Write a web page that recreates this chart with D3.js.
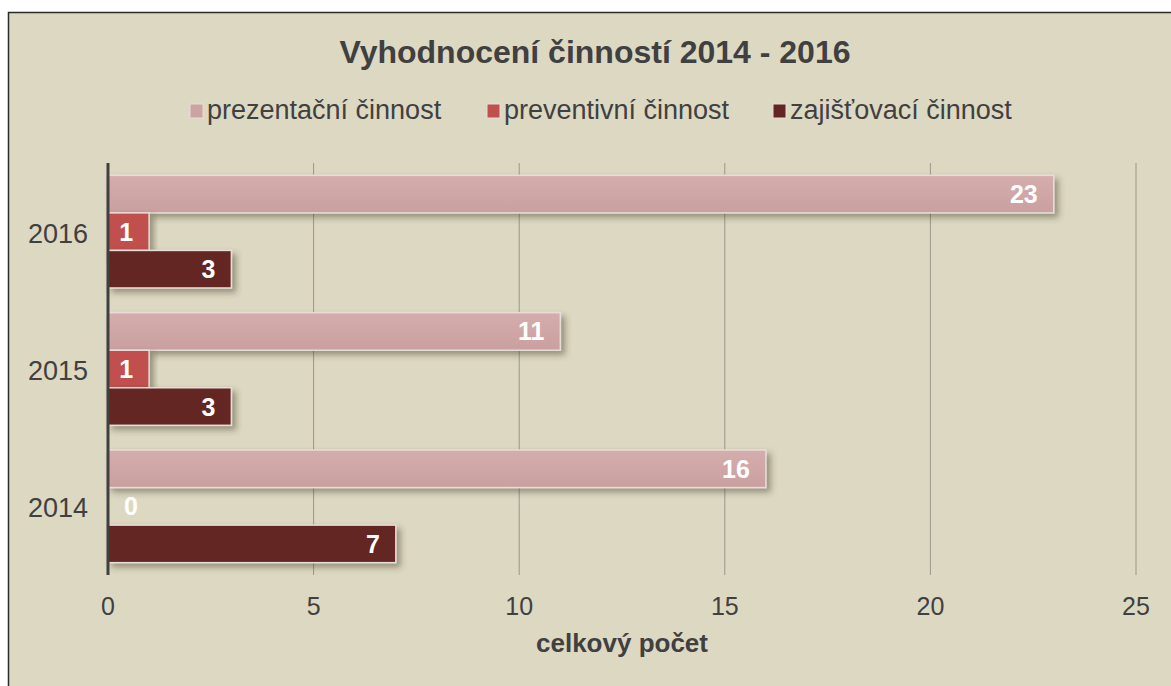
<!DOCTYPE html>
<html>
<head>
<meta charset="utf-8">
<script src="https://cdn.jsdelivr.net/npm/d3@7"></script>
<style>
  body { margin: 0; background: #ffffff; }
  svg { display: block; font-family: "Liberation Sans", Arial, sans-serif; }
</style>
</head>
<body>
<svg width="1171" height="686"></svg>
<script>
var years = ["2014", "2015", "2016"];
var seriesNames = ["prezentační činnost", "preventivní činnost", "zajišťovací činnost"];
var prezentacni = [16, 11, 23];
var preventivni = [0, 1, 1];
var zajistovaci = [7, 3, 3];
var xTicks = [0, 5, 10, 15, 20, 25];
var colors = ["#CDA3A2", "#C0504D", "#632523"];

var svg = d3.select("svg");

var defs = svg.append("defs");
var filter = defs.append("filter").attr("id", "shadow")
    .attr("x", "-10%").attr("y", "-30%").attr("width", "130%").attr("height", "180%");
filter.append("feDropShadow")
    .attr("dx", 4).attr("dy", 4).attr("stdDeviation", 3)
    .attr("flood-color", "#3a3a20").attr("flood-opacity", 0.45);

var grad = defs.append("linearGradient").attr("id", "pinkgrad")
    .attr("x1", 0).attr("y1", 0).attr("x2", 0).attr("y2", 1);
grad.append("stop").attr("offset", "0%").attr("stop-color", "#D5ADAC");
grad.append("stop").attr("offset", "100%").attr("stop-color", "#C9A09F");

// panel
svg.append("rect")
    .attr("x", 8.5).attr("y", 12.5)
    .attr("width", 1175).attr("height", 690)
    .attr("fill", "#DDD8C2")
    .attr("stroke", "#2b2b2b").attr("stroke-width", 1.5);

var margin = { left: 108, right: 35, top: 163, bottom: 111 };
var width = 1136 - margin.left;
var height = 575 - margin.top;

var g = svg.append("g").attr("transform", "translate(" + margin.left + "," + margin.top + ")");

var x = d3.scaleLinear().domain([0, 25]).range([0, width]);
var y = d3.scaleBand().domain(years.slice().reverse()).range([0, height]).paddingInner(0.18).paddingOuter(0.09);
var y1 = d3.scaleBand().domain(d3.range(3)).range([0, y.bandwidth()]);

// gridlines
g.selectAll("line.grid").data(xTicks.slice(1)).enter().append("line")
    .attr("class", "grid")
    .attr("x1", function (d) { return x(d); })
    .attr("x2", function (d) { return x(d); })
    .attr("y1", 0).attr("y2", height)
    .attr("stroke", "#9a978a").attr("stroke-width", 1);

// x tick labels
g.selectAll("text.xtick").data(xTicks).enter().append("text")
    .attr("class", "xtick")
    .attr("x", function (d) { return x(d); })
    .attr("y", height + 40)
    .attr("text-anchor", "middle")
    .attr("font-size", 25)
    .attr("fill", "#404040")
    .text(function (d) { return d; });

var data = years.map(function (yr, i) {
    return { year: yr, values: [prezentacni[i], preventivni[i], zajistovaci[i]] };
});

var groups = g.selectAll("g.year").data(data).enter().append("g")
    .attr("class", "year")
    .attr("transform", function (d) { return "translate(0," + y(d.year) + ")"; });

groups.selectAll("rect").data(function (d) {
    return d.values.map(function (v, k) { return { v: v, k: k }; });
}).enter().append("rect")
    .filter(function (d) { return d.v > 0; })
    .attr("x", 0)
    .attr("y", function (d) { return y1(d.k); })
    .attr("width", function (d) { return x(d.v); })
    .attr("height", y1.bandwidth())
    .attr("fill", function (d) { return d.k === 0 ? "url(#pinkgrad)" : colors[d.k]; })
    .attr("stroke", "#E6DCD8").attr("stroke-width", 1.5)
    .attr("filter", "url(#shadow)");

groups.selectAll("text.val").data(function (d) {
    return d.values.map(function (v, k) { return { v: v, k: k }; });
}).enter().append("text")
    .attr("class", "val")
    .attr("x", function (d) { return d.v > 0 ? x(d.v) - 16 : 23; })
    .attr("y", function (d) { return y1(d.k) + y1.bandwidth() / 2 + 9; })
    .attr("text-anchor", function (d) { return d.v > 0 ? "end" : "middle"; })
    .attr("font-size", 25)
    .attr("font-weight", "bold")
    .attr("fill", "#ffffff")
    .text(function (d) { return d.v; });

// y axis line
g.append("line")
    .attr("x1", 0).attr("x2", 0).attr("y1", 0).attr("y2", height)
    .attr("stroke", "#404040").attr("stroke-width", 3);

// category labels
g.selectAll("text.ycat").data(years).enter().append("text")
    .attr("class", "ycat")
    .attr("x", -20)
    .attr("y", function (d) { return y(d) + y.bandwidth() / 2 + 11; })
    .attr("text-anchor", "end")
    .attr("font-size", 27)
    .attr("fill", "#404040")
    .text(function (d) { return d; });

// axis title
svg.append("text")
    .attr("x", margin.left + width / 2)
    .attr("y", 652)
    .attr("text-anchor", "middle")
    .attr("font-size", 26)
    .attr("font-weight", "bold")
    .attr("fill", "#404040")
    .text("celkový počet");

// title
svg.append("text")
    .attr("x", 595)
    .attr("y", 63)
    .attr("text-anchor", "middle")
    .attr("font-size", 32)
    .attr("font-weight", "bold")
    .attr("fill", "#404040")
    .text("Vyhodnocení činností 2014 - 2016");

// legend
var legendX = [190, 487, 773];
var legend = svg.selectAll("g.legend").data(seriesNames).enter().append("g")
    .attr("class", "legend")
    .attr("transform", function (d, i) { return "translate(" + legendX[i] + ",104)"; });
legend.append("rect")
    .attr("width", 13).attr("height", 14)
    .attr("fill", function (d, i) { return colors[i]; })
    .attr("stroke", "#E6DCD8").attr("stroke-width", 1);
legend.append("text")
    .attr("x", 17).attr("y", 15)
    .attr("font-size", 27)
    .attr("fill", "#404040")
    .text(function (d) { return d; });
</script>
</body>
</html>
